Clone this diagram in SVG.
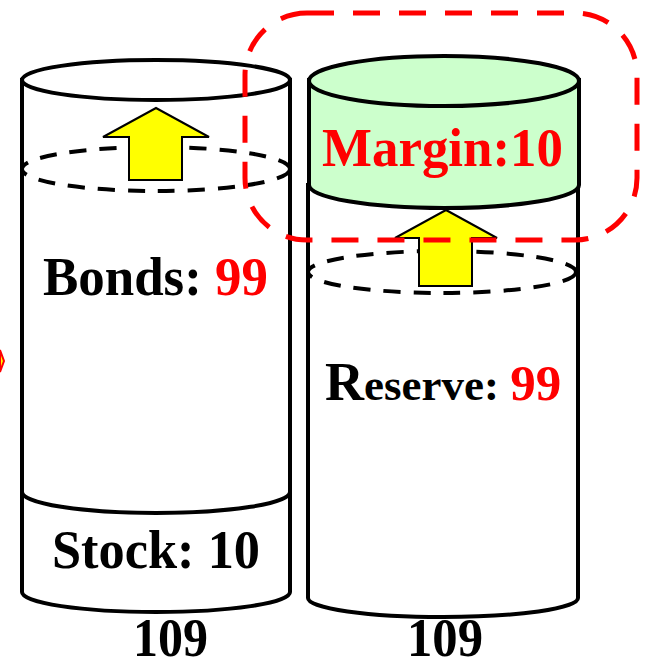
<svg xmlns="http://www.w3.org/2000/svg" width="646" height="661" viewBox="0 0 646 661">
<style>
.cyl{fill:#fff;stroke:#000;stroke-width:4}
.green{fill:#CCFFCC;stroke:#000;stroke-width:4}
.line{fill:none;stroke:#000;stroke-width:4}
.dash{fill:none;stroke:#000;stroke-width:4;stroke-dasharray:17 13}
.arrow{fill:#FFFF00;stroke:#000;stroke-width:2;stroke-linejoin:miter}
.t{font-family:"Liberation Serif","Times New Roman",serif;font-weight:bold;font-size:54px;fill:#000}
.red{fill:#FF0000}
.group{fill:none;stroke:#FF0000;stroke-width:5;stroke-dasharray:27 19}
</style>
<rect width="646" height="661" fill="#fff"/>
<g id="edge-fragment">
<polygon points="0,350 4,361 0,372" fill="#FFFF00" stroke="#FF0000" stroke-width="2"/>
</g>
<g id="left-cylinder">
<path class="cyl" d="M22,80 L22,592 A134,20 0 0 0 290,592 L290,80 Z"/>
<ellipse class="cyl" cx="156" cy="80" rx="134" ry="20"/>
<ellipse class="dash" cx="156" cy="169" rx="134" ry="22"/>
<path class="line" d="M22,492 A134,21 0 0 0 290,492"/>
<polygon class="arrow" points="156,108 209,137 182,137 182,180 129,180 129,137 103,137"/>
<text class="t" x="43" y="295" textLength="225" lengthAdjust="spacingAndGlyphs">Bonds: <tspan class="red">99</tspan></text>
<text class="t" x="52" y="568" textLength="208" lengthAdjust="spacingAndGlyphs">Stock: 10</text>
<text class="t" x="133" y="656" textLength="75" lengthAdjust="spacingAndGlyphs">109</text>
</g>
<g id="right-cylinder">
<path class="cyl" d="M308,185 L308,598 A135,19 0 0 0 578,598 L578,185 Z"/>
<ellipse class="dash" cx="442" cy="272" rx="134" ry="21"/>
<polygon class="arrow" points="446,210 497,238 472,238 472,286 419,286 419,238 395,238"/>
<text class="t" x="325" y="400"><tspan font-size="54">R</tspan><tspan font-size="45">eserve: </tspan><tspan class="red" font-size="51">99</tspan></text>
<text class="t" x="407" y="656" textLength="76" lengthAdjust="spacingAndGlyphs">109</text>
</g>
<g id="margin-cylinder">
<path class="green" d="M309,80 L309,185 A135,23 0 0 0 579,185 L579,80 Z"/>
<ellipse class="green" cx="444" cy="81" rx="135" ry="25"/>
<text class="t red" x="322" y="166" textLength="241" lengthAdjust="spacingAndGlyphs">Margin:10</text>
</g>
<g id="margin-highlight">
<rect class="group" x="245" y="13" width="392" height="227" rx="62" ry="62"/>
</g>
</svg>
